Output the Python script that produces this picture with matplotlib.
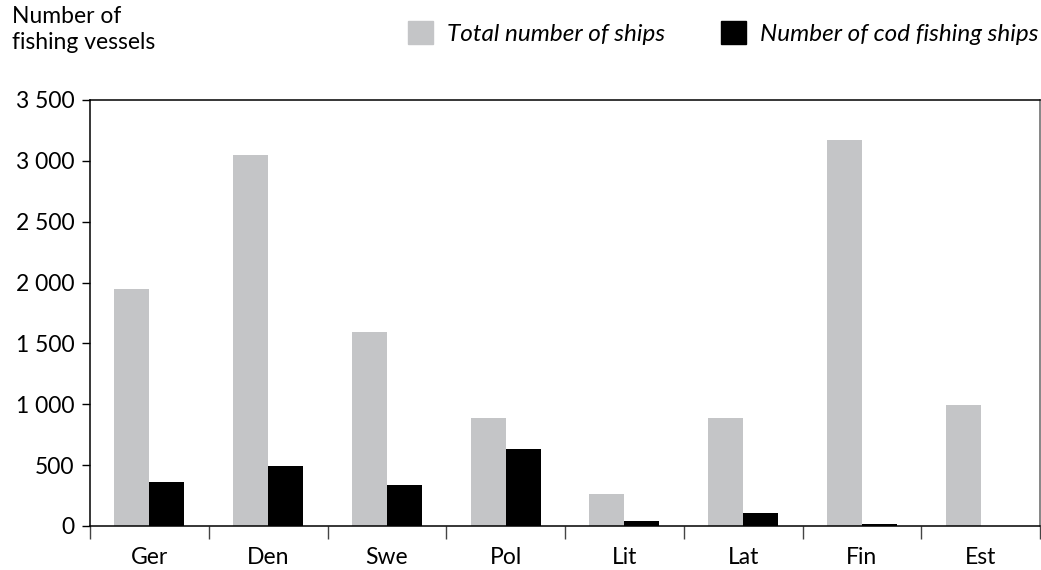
import numpy as np
import matplotlib.pyplot as plt
from matplotlib.patches import Patch

countries = ['Ger', 'Den', 'Swe', 'Pol', 'Lit', 'Lat', 'Fin', 'Est']
total_ships = [1950, 3050, 1590, 890, 265, 890, 3175, 995]
cod_ships = [360, 490, 335, 630, 40, 105, 15, 0]
yticks = [0, 500, 1000, 1500, 2000, 2500, 3000, 3500]

plt.rcParams['font.family'] = ['Lato', 'DejaVu Sans']


def fmt(v):
    return f'{v:,}'.replace(',', ' ')


def main():
    fig = plt.figure(figsize=(10.41, 5.70), dpi=100)
    ax = fig.add_axes([90 / 1041, 1 - 526 / 570, 950 / 1041, 426 / 570])

    x = np.arange(len(countries))
    w = 0.295
    ax.bar(x - w / 2, total_ships, w, color='#c4c5c7')
    ax.bar(x + w / 2, cod_ships, w, color='black')

    ax.set_xlim(-0.5, len(countries) - 0.5)
    ax.set_ylim(0, 3500)
    ax.set_yticks(yticks)
    ax.set_yticklabels([fmt(v) for v in yticks], fontsize=16.5)
    ax.set_xticks(x)
    ax.set_xticklabels(countries, fontsize=16.5)
    ax.tick_params(axis='x', length=0, pad=15)
    ax.set_xticks(np.arange(len(countries) + 1) - 0.5, minor=True)
    ax.tick_params(axis='x', which='minor', length=9, width=1, direction='out', color='#444444')
    ax.tick_params(axis='y', length=6, width=1, direction='out', pad=5)
    for s in ax.spines.values():
        s.set_linewidth(1.1)
    ax.spines['right'].set_color('#666666')

    fig.text(12 / 1041, 1 - 6 / 570, 'Number of\nfishing vessels', fontsize=16.5,
             ha='left', va='top', linespacing=1.3)

    handles = [Patch(color='#c4c5c7'), Patch(color='black')]
    fig.legend(handles, ['Total number of ships', 'Number of cod fishing ships'],
               loc='center right', bbox_to_anchor=(1038 / 1041, 1 - 33 / 570),
               ncol=2, frameon=False, handlelength=1.05, handleheight=1.05,
               handletextpad=0.55, columnspacing=2.3, borderaxespad=0,
               borderpad=0, prop={'size': 17.5, 'style': 'italic'})

    fig.savefig('out.png', dpi=100)


if __name__ == "__main__":
    main()
